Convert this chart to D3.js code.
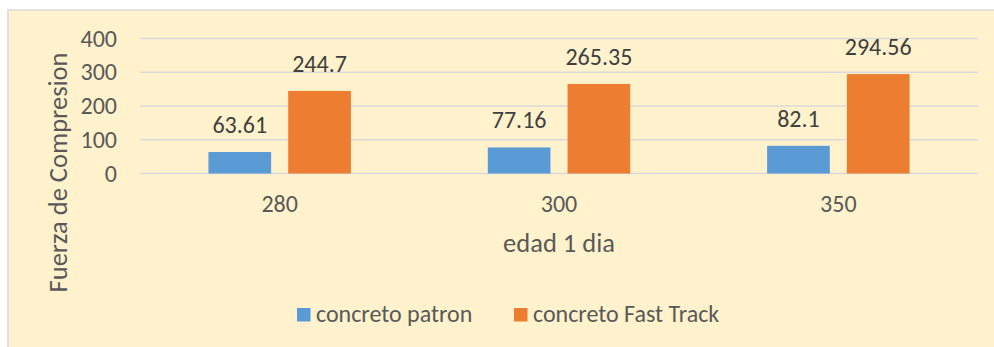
<!DOCTYPE html>
<html>
<head>
<meta charset="utf-8">
<script src="https://cdn.jsdelivr.net/npm/d3@7"></script>
<style>
  html, body { margin: 0; padding: 0; background: #ffffff; }
  svg { display: block; }
  text { font-family: Carlito, Calibri, Lato, sans-serif; }
</style>
</head>
<body>
<svg id="chart" width="994" height="347"></svg>
<script>
// Compressive strength at 1 day, by concrete design strength
const categories = ["280", "300", "350"];
const seriesNames = ["concreto patron", "concreto Fast Track"];
const patronValues = [63.61, 77.16, 82.1];
const fastTrackValues = [244.7, 265.35, 294.56];
const yTicks = [0, 100, 200, 300, 400];
const yTitle = "Fuerza de Compresion";
const xTitle = "edad 1 dia";

const colors = ["#5B9BD5", "#ED7D31"];
const seriesValues = [patronValues, fastTrackValues];

const svg = d3.select("#chart");
const W = 994, H = 347;
const labelSize = "24px";
const titleSize = "26.5px";

// Chart area panel
svg.append("rect")
  .attr("x", 8).attr("y", 10)
  .attr("width", W + 10).attr("height", H + 10)
  .attr("fill", "#FFF2CC")
  .attr("stroke", "#D9D9D9")
  .attr("stroke-width", 1.5);

const plot = { left: 140, right: 978, top: 38.5, bottom: 173.5 };

const y = d3.scaleLinear().domain([0, 400]).range([plot.bottom, plot.top]);

const x0 = d3.scaleBand()
  .domain(categories)
  .range([plot.left, plot.right])
  .paddingInner(0.49)
  .paddingOuter(0.245);

const x1 = d3.scaleBand()
  .domain(seriesNames)
  .range([0, x0.bandwidth()])
  .paddingInner(0.214)
  .paddingOuter(0);

// Horizontal gridlines
svg.append("g")
  .selectAll("line")
  .data(yTicks)
  .join("line")
  .attr("x1", plot.left).attr("x2", plot.right)
  .attr("y1", d => y(d)).attr("y2", d => y(d))
  .attr("stroke", "#D9D9D9")
  .attr("stroke-width", 1.5);

// Value axis labels
const yAxis = svg.append("g")
  .attr("transform", `translate(${plot.left - 23},0)`)
  .call(d3.axisLeft(y).tickValues(yTicks).tickSize(0).tickPadding(0));
yAxis.select(".domain").remove();
yAxis.selectAll("text")
  .attr("fill", "#595959")
  .attr("font-size", labelSize)
  .attr("dy", "0.32em");

// Bars
const groups = svg.append("g")
  .selectAll("g")
  .data(categories)
  .join("g")
  .attr("transform", d => `translate(${x0(d)},0)`);

const barData = (c, i) => seriesNames.map((s, k) => ({ series: s, k, value: seriesValues[k][i] }));

groups.selectAll("rect")
  .data((c, i) => barData(c, i))
  .join("rect")
  .attr("x", d => x1(d.series))
  .attr("width", x1.bandwidth())
  .attr("y", d => y(d.value))
  .attr("height", d => y(0) - y(d.value))
  .attr("fill", d => colors[d.k]);

// Data labels
groups.selectAll("text")
  .data((c, i) => barData(c, i))
  .join("text")
  .attr("x", d => x1(d.series) + x1.bandwidth() / 2)
  .attr("y", d => y(d.value) - 19)
  .attr("text-anchor", "middle")
  .attr("fill", "#404040")
  .attr("font-size", labelSize)
  .text(d => d.value);

// Category axis labels
const xAxis = svg.append("g")
  .attr("transform", `translate(0,${plot.bottom})`)
  .call(d3.axisBottom(x0).tickSize(0).tickPadding(0));
xAxis.select(".domain").remove();
xAxis.selectAll("text")
  .attr("fill", "#595959")
  .attr("font-size", labelSize)
  .attr("dy", null)
  .attr("y", 38.5);

// Axis titles
svg.append("text")
  .attr("transform", `translate(67,${(48 + 297) / 2}) rotate(-90)`)
  .attr("text-anchor", "middle")
  .attr("fill", "#595959")
  .attr("font-size", titleSize)
  .text(yTitle);

svg.append("text")
  .attr("x", (plot.left + plot.right) / 2)
  .attr("y", 252)
  .attr("text-anchor", "middle")
  .attr("fill", "#595959")
  .attr("font-size", titleSize)
  .text(xTitle);

// Legend
const legendX = [297, 514];
const legend = svg.append("g")
  .selectAll("g")
  .data(seriesNames)
  .join("g")
  .attr("transform", (d, i) => `translate(${legendX[i]},308)`);
legend.append("rect")
  .attr("width", 13.5).attr("height", 13.5)
  .attr("fill", (d, i) => colors[i]);
legend.append("text")
  .attr("x", 19)
  .attr("y", 14)
  .attr("fill", "#595959")
  .attr("font-size", labelSize)
  .text(d => d);
</script>
</body>
</html>
